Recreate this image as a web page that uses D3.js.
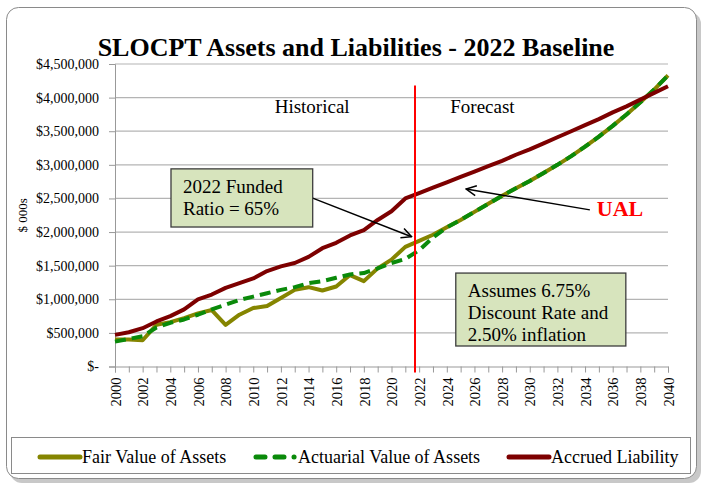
<!DOCTYPE html>
<html>
<head>
<meta charset="utf-8">
<script src="https://cdn.jsdelivr.net/npm/d3@7"></script>
<style>
  body { margin: 0; background: #fff; }
  text { font-family: "Liberation Serif", "Times New Roman", serif; fill: #000; }
</style>
</head>
<body>
<svg id="chart" width="701" height="483"></svg>
<script>
// Data ($000s)
const years = d3.range(2000, 2041);
const fairValue = [
  400000, 400000, 390000, 620000, 660000, 720000, 790000, 840000, 620000, 770000,
  870000, 900000, 1020000, 1140000, 1180000, 1130000, 1190000, 1360000, 1270000, 1460000,
  1590000, 1780000, 1870000, 1960000, 2070000, 2180000, 2300000, 2420000, 2540000, 2650000,
  2760000, 2880000, 3000000, 3130000, 3270000, 3420000, 3580000, 3750000, 3930000, 4120000,
  4330000
];
const actuarialValue = [
  370000, 410000, 450000, 580000, 650000, 700000, 770000, 850000, 920000, 990000,
  1040000, 1090000, 1140000, 1180000, 1240000, 1270000, 1320000, 1370000, 1390000, 1460000,
  1540000, 1600000, 1730000, 1920000, 2070000, 2180000, 2300000, 2420000, 2540000, 2650000,
  2760000, 2880000, 3000000, 3130000, 3270000, 3420000, 3580000, 3750000, 3930000, 4120000,
  4330000
];
const accruedLiability = [
  470000, 510000, 570000, 670000, 750000, 850000, 1000000, 1070000, 1170000, 1240000,
  1310000, 1420000, 1490000, 1540000, 1630000, 1760000, 1840000, 1950000, 2030000, 2180000,
  2310000, 2500000, 2580000, 2660000, 2740000, 2820000, 2900000, 2980000, 3060000, 3150000,
  3230000, 3320000, 3410000, 3500000, 3590000, 3680000, 3780000, 3870000, 3970000, 4070000,
  4170000
];
const yTicks = d3.range(0, 4500001, 500000);
const seriesNames = ["Fair Value of Assets", "Actuarial Value of Assets", "Accrued Liability"];
const seriesColors = ["#858500", "#0a8a0a", "#7d0000"];
const splitYear = 2021.7;

const svg = d3.select("#chart");
const x = d3.scaleLinear().domain([2000, 2040]).range([115, 668]);
const y = d3.scaleLinear().domain([0, 4500000]).range([366.5, 64]);

// Rahmen
svg.append("rect").attr("x", 10).attr("y", 12).attr("width", 691).attr("height", 471)
  .attr("rx", 12).attr("fill", "#c8c8c8");
svg.append("rect").attr("x", 6.5).attr("y", 7.5).attr("width", 690).attr("height", 471)
  .attr("rx", 12).attr("fill", "#fff").attr("stroke", "#8a8a8a").attr("stroke-width", 1);

// Titel
svg.append("text").attr("x", 356).attr("y", 56).attr("text-anchor", "middle")
  .style("font-size", "26px").style("font-weight", "700")
  .text("SLOCPT Assets and Liabilities - 2022 Baseline");

// Gitter
svg.append("g").selectAll("line").data(yTicks.slice(1)).join("line")
  .attr("x1", x(2000)).attr("x2", x(2040))
  .attr("y1", d => y(d)).attr("y2", d => y(d))
  .attr("stroke", "#b4b4b4").attr("stroke-width", 1.2);

// Y-Achse
const fmt = d3.format(",");
const yAxis = svg.append("g").attr("transform", `translate(${x(2000)},0)`)
  .call(d3.axisLeft(y).tickValues(yTicks).tickSize(6).tickPadding(10)
    .tickFormat(d => d === 0 ? "$-" : "$" + fmt(d)));
yAxis.select(".domain").attr("stroke", "#999");
yAxis.selectAll(".tick line").attr("stroke", "#999");
yAxis.selectAll("text").style("font-size", "14px").style("font-family", '"Liberation Serif", serif');

svg.append("text").attr("transform", `translate(27,${y(2250000)}) rotate(-90)`)
  .attr("text-anchor", "middle").style("font-size", "13px").text("$ 000s");

// X-Achse
const xAxis = svg.append("g").attr("transform", `translate(0,${y(0)})`)
  .call(d3.axisBottom(x).tickValues(years).tickSize(6)
    .tickFormat(d => d % 2 === 0 ? String(d) : ""));
xAxis.select(".domain").attr("stroke", "#999");
xAxis.selectAll(".tick line").attr("stroke", "#999");
xAxis.selectAll("text")
  .attr("transform", "rotate(-90)")
  .attr("x", -11).attr("y", 0).attr("dy", "0.36em")
  .attr("text-anchor", "end")
  .style("font-size", "14.5px").style("font-family", '"Liberation Serif", serif');

// Linien
const line = d3.line().x((d, i) => x(years[i])).y(d => y(d));
const series = [fairValue, actuarialValue, accruedLiability];
svg.append("g").selectAll("path").data(series).join("path")
  .attr("d", d => line(d))
  .attr("fill", "none")
  .attr("stroke", (d, i) => seriesColors[i])
  .attr("stroke-width", 4)
  .attr("stroke-linejoin", "round")
  .attr("stroke-dasharray", (d, i) => i === 1 ? "11,6" : null);

// Trennlinie
svg.append("line").attr("x1", x(splitYear)).attr("x2", x(splitYear))
  .attr("y1", y(4180000)).attr("y2", y(0) + 6)
  .attr("stroke", "#ff0000").attr("stroke-width", 2);

svg.append("text").attr("x", x(2011.55)).attr("y", y(3770000))
  .style("font-size", "19px").text("Historical");
svg.append("text").attr("x", x(2024.25)).attr("y", y(3770000))
  .style("font-size", "19px").text("Forecast");

// Pfeile
svg.append("defs").append("marker").attr("id", "arr")
  .attr("viewBox", "0 0 12 12").attr("refX", 11).attr("refY", 6)
  .attr("markerWidth", 12).attr("markerHeight", 12).attr("markerUnits", "userSpaceOnUse")
  .attr("orient", "auto")
  .append("path").attr("d", "M1,1 L11,6 L1,11").attr("fill", "none")
  .attr("stroke", "#000").attr("stroke-width", 1.5);

const arrows = [
  { from: [2014.3, 2505000], to: [2021.45, 1930000] },
  { from: [2034.35, 2330000], to: [2025.4, 2640000] }
];
svg.append("g").selectAll("line").data(arrows).join("line")
  .attr("x1", d => x(d.from[0])).attr("y1", d => y(d.from[1]))
  .attr("x2", d => x(d.to[0])).attr("y2", d => y(d.to[1]))
  .attr("stroke", "#000").attr("stroke-width", 1.5)
  .attr("marker-end", "url(#arr)");

// Textboxen
const boxes = [
  { x0: 2004.05, x1: 2014.3, v0: 2940000, v1: 2075000, lines: ["2022 Funded", "Ratio = 65%"] },
  { x0: 2024.65, x1: 2036.95, v0: 1390000, v1: 305000, lines: ["Assumes 6.75%", "Discount Rate and", "2.50% inflation"] }
];
boxes.forEach(b => {
  const bx = x(b.x0), by = y(b.v0);
  svg.append("rect").attr("x", bx).attr("y", by)
    .attr("width", x(b.x1) - bx).attr("height", y(b.v1) - by)
    .attr("fill", "#d7e4bd").attr("stroke", "#3c3c3c").attr("stroke-width", 1.3);
  b.lines.forEach((t, i) => {
    svg.append("text").attr("x", bx + 12).attr("y", by + 24 + i * 22)
      .style("font-size", "19px").text(t);
  });
});

svg.append("text").attr("x", x(2034.85)).attr("y", y(2240000))
  .style("font-size", "22px").style("font-weight", "700").style("fill", "#ff0000")
  .text("UAL");

// Legende
svg.append("rect").attr("x", 11.5).attr("y", 437.5).attr("width", 679).attr("height", 36)
  .attr("fill", "#fff").attr("stroke", "#8a8a8a");
const legendX = [38, 254, 507];
const lg = svg.append("g").selectAll("g").data(seriesNames).join("g")
  .attr("transform", (d, i) => `translate(${legendX[i]},457)`);
lg.append("line").attr("x1", 2).attr("x2", 42).attr("y1", 0).attr("y2", 0)
  .attr("stroke", (d, i) => seriesColors[i]).attr("stroke-width", 5)
  .attr("stroke-linecap", "round")
  .attr("stroke-dasharray", (d, i) => i === 1 ? "9,10,9,10,0.1,20" : null);
lg.append("text").attr("x", 44).attr("y", 6).style("font-size", "18px").text(d => d);
</script>
</body>
</html>
